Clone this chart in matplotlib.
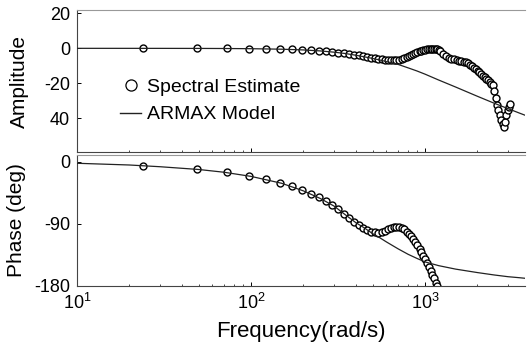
import matplotlib
matplotlib.use("Agg")
import matplotlib.pyplot as plt
from matplotlib.lines import Line2D
from matplotlib.ticker import FixedLocator, FixedFormatter, LogLocator, NullFormatter

plt.rcParams['font.family'] = ['Liberation Sans', 'DejaVu Sans']

# ---------------- data ----------------
# Spectral estimate frequencies (rad/s)
spec_freq = [24, 49, 73, 98, 122, 147, 171, 196, 220, 245, 269, 294, 318, 343, 367,
             392, 416, 441, 465, 490, 514, 539, 563, 588, 612, 637, 661, 686, 710, 735,
             759, 784, 808, 833, 857, 882, 906, 931, 955, 980, 1004, 1029, 1053, 1078,
             1102, 1127, 1151, 1176, 1200, 1225, 1274, 1323, 1372, 1421, 1470, 1519,
             1568, 1617, 1666, 1715, 1764, 1813, 1862, 1911, 1960, 2009, 2058, 2107,
             2156, 2205, 2254, 2303, 2352, 2401, 2450, 2499, 2548, 2597, 2646, 2695,
             2744, 2793, 2842, 2891, 2940, 2989, 3038, 3087]
spec_amp = [0, 0, -0.05, -0.2, -0.3, -0.45, -0.65, -0.9, -1.15, -1.45, -1.75, -2.05,
            -2.4, -2.8, -3.2, -3.6, -4.0, -4.5, -5.0, -5.4, -5.8, -6.1, -6.4, -6.6,
            -6.8, -6.9, -6.9, -6.8, -6.6, -6.2, -5.7, -5.1, -4.4, -3.7, -3.0, -2.5,
            -2.0, -1.6, -1.3, -1.0, -0.8, -0.6, -0.4, -0.25, -0.15, -0.2, -0.3, -0.5,
            -0.9, -1.5, -3.2, -4.6, -5.4, -5.9, -6.3, -6.7, -7.0, -7.3, -7.6, -8.0,
            -8.6, -9.4, -10.3, -11.2, -12.1, -13.0, -13.8, -14.7, -15.6, -16.5, -17.4,
            -18.4, -19.3, -20.2, -21.2, -24.5, -28.5, -32.5, -35.5, -38.5, -41.0,
            -43.5, -45.0, -42.0, -38.5, -35.5, -33.5, -32.0]
spec_phase_freq = spec_freq[:48]
spec_phase = [-5.5, -10.5, -15, -20, -25, -30, -35, -40.5, -46, -51, -56, -62, -68,
              -75, -81, -87, -92, -96, -99, -101, -102, -102.5, -102, -100, -98, -96,
              -94.5, -94, -94.5, -96, -98, -101, -104, -108, -112, -116, -121, -126,
              -131, -136, -141, -146, -152, -158, -164, -169, -175, -180]

# ARMAX model
model_freq = [10, 20, 30, 50, 70, 100, 150, 200, 250, 300, 350, 400, 450, 500, 550,
              600, 700, 800, 900, 1000, 1200, 1500, 2000, 2500, 3000, 3500, 4000]
model_amp = [0, -0.01, -0.02, -0.05, -0.1, -0.21, -0.5, -0.92, -1.49, -2.2, -3.0,
             -3.96, -4.9, -5.8, -6.7, -7.6, -9.2, -11.2, -13.0, -14.8, -18.2, -22.2,
             -27.5, -31.5, -34.6, -37.2, -39.4]
model_phase = [-2, -4.5, -7, -11, -15, -21, -31, -42, -53, -64, -77, -88, -96, -104,
               -110, -116, -126, -134, -140, -145, -150.5, -155.5, -160.5, -164,
               -166.5, -168, -169.5]

amp_ticks = [20, 0, -20, -40]
amp_ticklabels = ['20', '0', '-20', '40']
phase_ticks = [0, -90, -180]
phase_ticklabels = ['0', '-90', '-180']
freq_ticks = [10, 100, 1000]
freq_ticklabels = [r'$\mathregular{10^{1}}$', r'$\mathregular{10^{2}}$', r'$\mathregular{10^{3}}$']

# ---------------- figure ----------------
fig = plt.figure(figsize=(5.27, 3.49), dpi=100)
W, H = 527, 349
ax1 = fig.add_axes([77 / W, 1 - 152 / H, 448 / W, 142 / H])
ax2 = fig.add_axes([77 / W, 1 - 286 / H, 448 / W, 131 / H])

mk = dict(marker='o', ms=5, mfc='white', mec='black', mew=1.0, ls='none', zorder=2)
ln = dict(color='#222222', lw=0.9, zorder=3)

ax1.plot(spec_freq, spec_amp, **mk)
ax1.plot(model_freq, model_amp, **ln)
ax2.plot(spec_phase_freq, spec_phase, **mk)
ax2.plot(model_freq, model_phase, **ln)

for ax in (ax1, ax2):
    ax.set_xscale('log')
    ax.set_xlim(10, 3760)
    ax.xaxis.set_major_locator(FixedLocator(freq_ticks))
    ax.xaxis.set_minor_locator(LogLocator(base=10, subs=range(2, 10)))
    ax.xaxis.set_minor_formatter(NullFormatter())
    ax.tick_params(which='both', direction='in', top=False, right=False,
                   labelsize=13, pad=5)
    ax.tick_params(which='major', length=3, width=0.7)
    ax.tick_params(which='minor', length=1.5, width=0.5)
    ax.spines['left'].set_color('#444444')
    ax.spines['bottom'].set_color('#444444')
    ax.spines['top'].set_color('#999999')
    ax.spines['right'].set_visible(False)
    for s in ax.spines.values():
        s.set_linewidth(0.8)

ax1.set_ylim(-59.5, 22)
ax1.yaxis.set_major_locator(FixedLocator(amp_ticks))
ax1.yaxis.set_major_formatter(FixedFormatter(amp_ticklabels))
ax1.xaxis.set_major_formatter(NullFormatter())
ax1.set_ylabel('Amplitude', fontsize=15, labelpad=11)

ax2.set_ylim(-180, 10)
ax2.yaxis.set_major_locator(FixedLocator(phase_ticks))
ax2.yaxis.set_major_formatter(FixedFormatter(phase_ticklabels))
ax2.xaxis.set_major_formatter(FixedFormatter(freq_ticklabels))
ax2.set_ylabel('Phase (deg)', fontsize=15, labelpad=6)
ax2.set_xlabel('Frequency(rad/s)', fontsize=16, labelpad=6)

handles = [Line2D([], [], marker='o', ms=8, mfc='white', mec='black', mew=0.9, ls='none'),
           Line2D([], [], color='#222222', lw=1.0)]
ax1.legend(handles, ['Spectral Estimate', 'ARMAX Model'], loc='center left',
           bbox_to_anchor=(0.096, 0.36), frameon=False, fontsize=14,
           handlelength=1.1, handletextpad=0.3, labelspacing=0.5,
           borderpad=0, borderaxespad=0)

fig.savefig('out.png', dpi=100)
